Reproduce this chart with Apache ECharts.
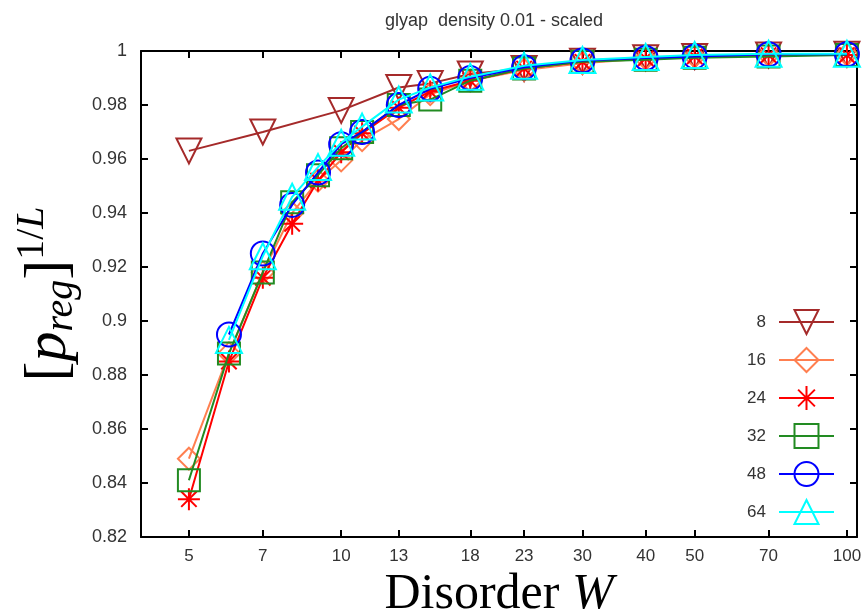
<!DOCTYPE html>
<html>
<head>
<meta charset="utf-8">
<script src="https://cdn.jsdelivr.net/npm/echarts@6/dist/echarts.min.js"></script>
<style>
html,body{margin:0;padding:0;background:#fff;}
#chart{width:868px;height:610px;}
</style>
</head>
<body>
<div id="chart"></div>
<script>
// ---- data ----
const TITLE = 'glyap  density 0.01 - scaled';
const X_TICKS = [5, 7, 10, 13, 18, 23, 30, 40, 50, 70, 100];
const SIZES = ['8', '16', '24', '32', '48', '64'];

const W8  = [5, 7, 10, 13, 15, 18, 23, 30, 40, 50, 70, 100];
const P8  = [0.963, 0.970, 0.978, 0.9865, 0.988, 0.9915, 0.9935, 0.9962, 0.9975, 0.998, 0.9985, 0.9988];

const W16 = [5, 6, 7, 8, 9, 10, 11, 13, 15, 18, 23, 30, 40, 50, 70, 100];
const P16 = [0.849, 0.888, 0.918, 0.940, 0.952, 0.9595, 0.967, 0.9748, 0.984, 0.989, 0.993, 0.9955, 0.9972, 0.998, 0.9985, 0.9988];

const W24 = [5, 6, 7, 8, 9, 10, 11, 13, 15, 18, 23, 30, 40, 50, 70, 100];
const P24 = [0.834, 0.885, 0.916, 0.936, 0.952, 0.9625, 0.9695, 0.979, 0.985, 0.989, 0.9935, 0.996, 0.9973, 0.998, 0.9985, 0.9985];

const W32 = [5, 6, 7, 8, 9, 10, 11, 13, 15, 18, 23, 30, 40, 50, 70, 100];
const P32 = [0.841, 0.888, 0.918, 0.944, 0.954, 0.964, 0.970, 0.980, 0.982, 0.989, 0.9935, 0.996, 0.9968, 0.9975, 0.998, 0.9985];

const W48 = [6, 7, 8, 9, 10, 11, 13, 15, 18, 23, 30, 40, 50, 70, 100];
const P48 = [0.895, 0.925, 0.943, 0.955, 0.9655, 0.970, 0.980, 0.986, 0.990, 0.994, 0.9965, 0.9974, 0.998, 0.9988, 0.9988];

const W64 = [6, 7, 8, 9, 10, 11, 13, 15, 18, 23, 30, 40, 50, 70, 100];
const P64 = [0.893, 0.924, 0.946, 0.957, 0.966, 0.972, 0.982, 0.9865, 0.9905, 0.9945, 0.9967, 0.9978, 0.9985, 0.999, 0.999];

// ---- styling ----
const COLORS = ['#a52a2a', '#ff7f50', '#ff0000', '#228b22', '#0000ff', '#00ffff'];
const SYMBOLS = ['triangle', 'diamond', 'path://M0,10L20,10M10,0L10,20M3,3L17,17M17,3L3,17', 'rect', 'circle', 'triangle'];
const ROTATE = [180, 0, 0, 0, 0, 0];
const SYMSIZE = [25, 22, 22, 22, 24, 26];
const XS = [W8, W16, W24, W32, W48, W64];
const YS = [P8, P16, P24, P32, P48, P64];

const FONT = 'Liberation Sans, Arial, sans-serif';
const SERIF = 'Liberation Serif, Times New Roman, serif';

const series = SIZES.map((name, i) => ({
  name: name,
  type: 'line',
  xAxisIndex: 0,
  yAxisIndex: 0,
  data: XS[i].map((w, j) => [w, YS[i][j]]),
  symbol: SYMBOLS[i],
  symbolRotate: ROTATE[i],
  symbolSize: SYMSIZE[i],
  showAllSymbol: true,
  clip: false,
  lineStyle: { color: COLORS[i], width: 2 },
  itemStyle: { color: 'rgba(255,255,255,0)', borderColor: COLORS[i], borderWidth: 2 },
  emphasis: { disabled: true },
  z: 2 + i
}));

const chart = echarts.init(document.getElementById('chart'), null, { renderer: 'canvas' });
chart.setOption({
  animation: false,
  backgroundColor: '#fff',
  title: {
    text: TITLE,
    left: 380,
    top: 7,
    textStyle: { fontSize: 18, fontWeight: 'normal', color: '#333', fontFamily: FONT }
  },
  grid: { left: 141, right: 11, top: 51, bottom: 73, containLabel: false, outerBoundsMode: 'none' },
  legend: {
    orient: 'vertical',
    right: 28,
    top: 304,
    align: 'right',
    itemWidth: 55,
    itemHeight: 30,
    itemGap: 12,
    selectedMode: false,
    textStyle: { fontSize: 17, color: '#333', fontFamily: FONT, width: 26, align: 'right', padding: [0, 8, 0, 0] },
    data: SIZES
  },
  xAxis: [{
    type: 'log',
    min: 4.02,
    max: 104.7,
    position: 'bottom',
    axisLine: { show: true, onZero: false, lineStyle: { color: '#000', width: 2 } },
    axisTick: { show: true, inside: true, length: 7, customValues: X_TICKS, lineStyle: { color: '#000', width: 2 } },
    minorTick: { show: false },
    axisLabel: { show: true, margin: 11, customValues: X_TICKS, fontSize: 17, color: '#333', fontFamily: FONT },
    splitLine: { show: false },
    name: 'Disorder {i|W}',
    nameLocation: 'middle',
    nameGap: 32,
    nameTextStyle: {
      fontSize: 50, color: '#000', fontFamily: SERIF,
      rich: { i: { fontSize: 50, fontStyle: 'italic', fontFamily: SERIF, color: '#000' } }
    }
  }, {
    type: 'log',
    min: 4.02,
    max: 104.7,
    position: 'top',
    axisLine: { show: true, onZero: false, lineStyle: { color: '#000', width: 2 } },
    axisTick: { show: true, inside: true, length: 7, customValues: X_TICKS, lineStyle: { color: '#000', width: 2 } },
    axisLabel: { show: false, customValues: X_TICKS },
    splitLine: { show: false }
  }],
  yAxis: [{
    type: 'value',
    min: 0.82,
    max: 1,
    interval: 0.02,
    position: 'left',
    axisLine: { show: true, onZero: false, lineStyle: { color: '#000', width: 2 } },
    axisTick: { show: true, inside: true, length: 7, lineStyle: { color: '#000', width: 2 } },
    axisLabel: { show: true, margin: 14, fontSize: 18, color: '#333', fontFamily: FONT },
    splitLine: { show: false },
    name: '{b|[}{p|p}{s|reg}{b|]}{n|1/}{u|L}',
    nameLocation: 'middle',
    nameRotate: 90,
    nameGap: 50,
    nameTextStyle: {
      fontFamily: SERIF, color: '#000',
      rich: {
        b: { fontSize: 60, fontFamily: SERIF, color: '#000' },
        p: { fontSize: 60, fontStyle: 'italic', fontFamily: SERIF, color: '#000' },
        s: { fontSize: 40, fontStyle: 'italic', fontFamily: SERIF, color: '#000', padding: [24, 0, 0, 0] },
        n: { fontSize: 40, fontFamily: SERIF, color: '#000', padding: [0, 0, 34, 0] },
        u: { fontSize: 40, fontStyle: 'italic', fontFamily: SERIF, color: '#000', padding: [0, 0, 34, 0] }
      }
    }
  }, {
    type: 'value',
    min: 0.82,
    max: 1,
    interval: 0.02,
    position: 'right',
    axisLine: { show: true, onZero: false, lineStyle: { color: '#000', width: 2 } },
    axisTick: { show: true, inside: true, length: 7, lineStyle: { color: '#000', width: 2 } },
    axisLabel: { show: false },
    splitLine: { show: false }
  }],
  series: series
});
</script>
</body>
</html>
